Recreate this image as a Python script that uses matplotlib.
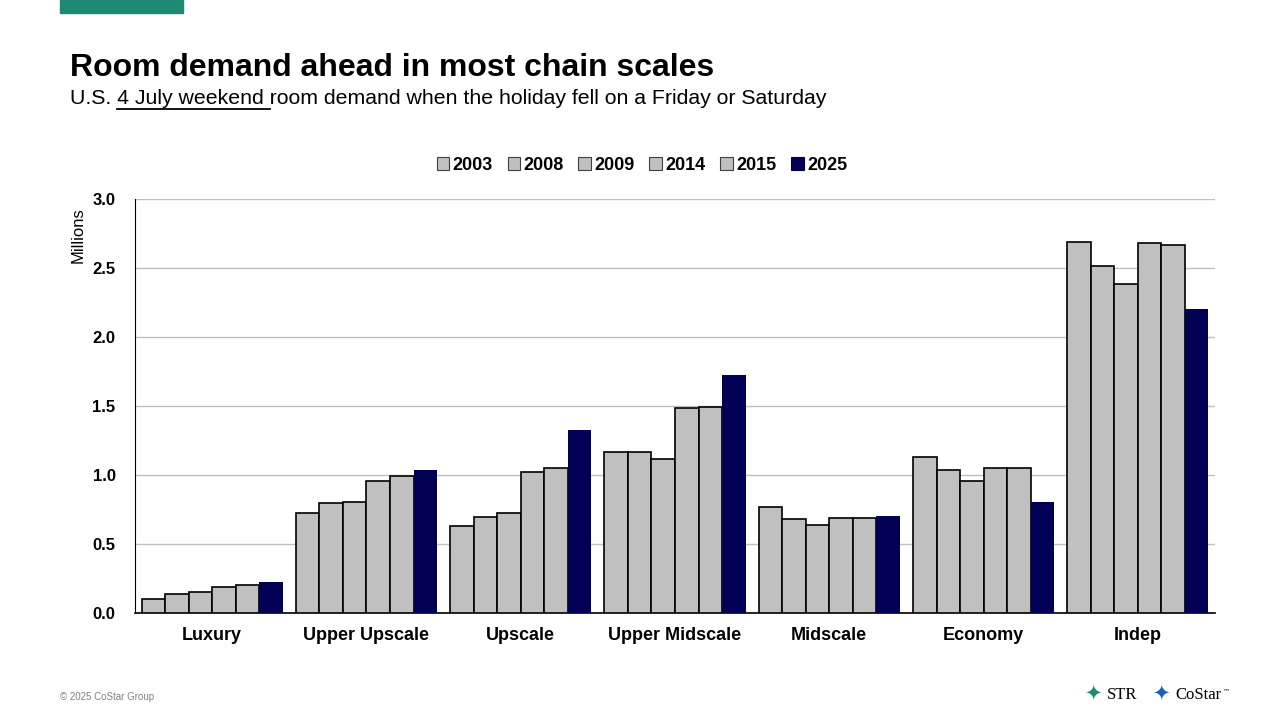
import matplotlib.pyplot as plt
import matplotlib.patches as mpatches
import numpy as np

plt.rcParams['font.family'] = ['Liberation Sans', 'DejaVu Sans']

categories = ['Luxury', 'Upper Upscale', 'Upscale', 'Upper Midscale', 'Midscale', 'Economy', 'Indep']
years = ['2003', '2008', '2009', '2014', '2015', '2025']
demand = {
    '2003': [0.10, 0.725, 0.63, 1.167, 0.768, 1.13, 2.688],
    '2008': [0.14, 0.80, 0.696, 1.167, 0.681, 1.036, 2.514],
    '2009': [0.15, 0.805, 0.725, 1.116, 0.638, 0.957, 2.384],
    '2014': [0.19, 0.956, 1.02, 1.486, 0.688, 1.05, 2.681],
    '2015': [0.20, 0.99, 1.05, 1.493, 0.688, 1.05, 2.667],
    '2025': [0.225, 1.036, 1.326, 1.725, 0.703, 0.804, 2.203],
}
yticks = [0.0, 0.5, 1.0, 1.5, 2.0, 2.5, 3.0]

gray = '#C0C0C0'
navy = '#000054'

fig = plt.figure(figsize=(12.8, 7.2), dpi=100)
ax = fig.add_axes([0.1055, 0.1486, 0.8437, 0.575])

x = np.arange(len(categories))
group_w = 0.915
bar_w = group_w / len(years)
for i, yr in enumerate(years):
    pos = x - group_w / 2 + bar_w * (i + 0.5)
    if yr == '2025':
        ax.bar(pos, demand[yr], width=bar_w, color=navy, edgecolor=navy, linewidth=0, label=yr, zorder=3)
    else:
        ax.bar(pos, demand[yr], width=bar_w, color=gray, edgecolor='black', linewidth=1.2, label=yr, zorder=3)

ax.set_xlim(-0.5, len(categories) - 0.5)
ax.set_ylim(0, 3.0)
ax.set_yticks(yticks)
ax.set_yticklabels([f'{v:.1f}' for v in yticks], fontsize=12, fontweight='bold')
ax.set_xticks(x)
ax.set_xticklabels(categories, fontsize=13, fontweight='bold')
ax.tick_params(axis='both', length=0)
ax.tick_params(axis='x', pad=10)
ax.tick_params(axis='y', pad=14)
ax.yaxis.grid(True, color=gray, linewidth=1, zorder=0)
ax.set_axisbelow(True)
for s in ['top', 'right']:
    ax.spines[s].set_visible(False)
ax.spines['left'].set_color('black')
ax.spines['bottom'].set_color('black')
ax.spines['bottom'].set_linewidth(1.2)

fig.text(78 / 1280, 1 - 235 / 720, 'Millions', rotation=90, fontsize=12, ha='center', va='center')

# legend
handles = []
for yr in years:
    c = navy if yr == '2025' else gray
    ec = navy if yr == '2025' else '#404040'
    handles.append(mpatches.Patch(facecolor=c, edgecolor=ec, linewidth=0.8, label=yr))
fig.legend(handles=handles, loc='center', bbox_to_anchor=(642 / 1280, 1 - 165 / 720), ncol=6,
           frameon=False, prop={'size': 13, 'weight': 'bold'}, handlelength=0.7, handleheight=0.7,
           handletextpad=0.2, columnspacing=0.8)

# header
fig.patches.append(mpatches.Rectangle((60 / 1280, 1 - 13 / 720), 123 / 1280, 13 / 720,
                                      transform=fig.transFigure, color='#1E8A74'))
fig.text(70 / 1280, 1 - 68 / 720, 'Room demand ahead in most chain scales', fontsize=23,
         fontweight='bold', va='center')
sub = 'U.S. 4 July weekend room demand when the holiday fell on a Friday or Saturday'
fig.text(70 / 1280, 1 - 99 / 720, sub, fontsize=15.3, va='center')

fig.canvas.draw()
r = fig.canvas.get_renderer()
t1 = fig.text(70 / 1280, 1 - 99 / 720, 'U.S. ', fontsize=15.3, va='center')
t2 = fig.text(70 / 1280, 1 - 99 / 720, 'U.S. 4 July weekend ', fontsize=15.3, va='center')
x0 = t1.get_window_extent(r).x1 / 1280
x1 = t2.get_window_extent(r).x1 / 1280
t1.remove()
t2.remove()
fig.add_artist(plt.Line2D([x0, x1], [1 - 108.5 / 720] * 2, transform=fig.transFigure,
                          color='black', linewidth=1.3))

# footer
fig.text(60 / 1280, 1 - 697 / 720, '\u00a9 2025 CoStar Group', fontsize=7, color='#808080', va='center')
fig.text(1093 / 1280, 1 - 695 / 720, '\u2726', fontsize=15, color='#1E8A74', ha='center', va='center')
fig.text(1107 / 1280, 1 - 695 / 720, 'STR', fontsize=12, family='Liberation Serif', va='center')
fig.text(1161 / 1280, 1 - 695 / 720, '\u2726', fontsize=15, color='#1F5FBF', ha='center', va='center')
fig.text(1175 / 1280, 1 - 695 / 720, 'CoStar', fontsize=12, family='Liberation Serif', va='center')
fig.text(1223 / 1280, 1 - 691 / 720, '\u2122', fontsize=5, family='DejaVu Sans', va='center')

fig.savefig('out.png', dpi=100)
